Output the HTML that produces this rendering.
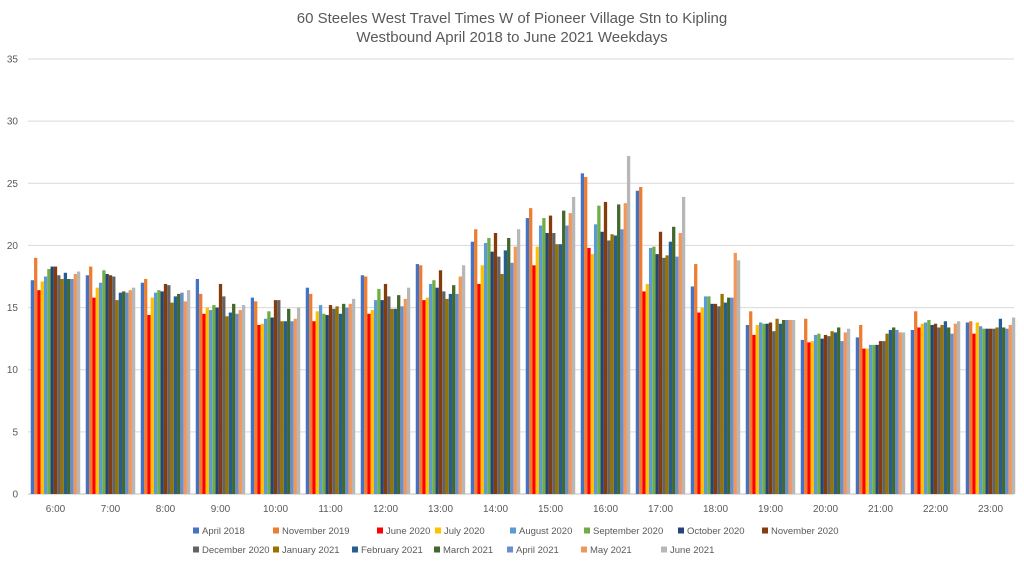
<!DOCTYPE html>
<html><head><meta charset="utf-8"><style>
body{margin:0;background:#fff;font-family:"Liberation Sans",sans-serif;}
svg text{font-family:"Liberation Sans",sans-serif;fill:#595959;}
</style></head><body>
<svg id="chart" width="1024" height="560">
<text x="512" y="23" text-anchor="middle" font-size="15">60 Steeles West Travel Times W of Pioneer Village Stn to Kipling</text>
<text x="512" y="42" text-anchor="middle" font-size="15">Westbound April 2018 to June 2021 Weekdays</text>
<g id="grid"></g><g id="bars"></g><g id="xlabels"></g><g id="legend"></g>
</svg>
<script>
const categories=["6:00","7:00","8:00","9:00","10:00","11:00","12:00","13:00","14:00","15:00","16:00","17:00","18:00","19:00","20:00","21:00","22:00","23:00"];
const seriesNames=["April 2018","November 2019","June 2020","July 2020","August 2020","September 2020","October 2020","November 2020","December 2020","January 2021","February 2021","March 2021","April 2021","May 2021","June 2021"];
const seriesColors=["#4472C4","#ED7D31","#FF0000","#FFC000","#5B9BD5","#70AD47","#264478","#843C0C","#636363","#997300","#255E91","#43682B","#698ED0","#F1975A","#B7B7B7"];
const yTicks=[0,5,10,15,20,25,30,35];
// values[category][series]
const v6=[17.2,19.0,16.4,17.1,17.5,18.1,18.3,18.3,17.6,17.3,17.8,17.3,17.3,17.7,17.9];
const v7=[17.6,18.3,15.8,16.6,17.0,18.0,17.7,17.6,17.5,15.6,16.2,16.3,16.2,16.4,16.6];
const v8=[17.0,17.3,14.4,15.8,16.2,16.4,16.3,16.9,16.8,15.4,15.9,16.1,16.2,15.5,16.4];
const v9=[17.3,16.1,14.5,15.0,14.8,15.2,15.0,16.9,15.9,14.3,14.6,15.3,14.5,14.8,15.2];
const v10=[15.8,15.5,13.6,13.7,14.1,14.7,14.2,15.6,15.6,13.9,13.9,14.9,13.9,14.1,15.0];
const v11=[16.6,16.1,13.9,14.7,15.2,14.5,14.4,15.2,14.9,15.1,14.5,15.3,15.0,15.3,15.7];
const v12=[17.6,17.5,14.5,14.8,15.6,16.5,15.6,16.9,15.9,14.9,14.9,16.0,15.1,15.7,16.6];
const v13=[18.5,18.4,15.6,15.8,16.9,17.2,16.6,18.0,16.3,15.7,16.1,16.8,16.1,17.5,18.4];
const v14=[20.3,21.3,16.9,18.4,20.2,20.6,19.5,21.0,19.1,17.7,19.6,20.6,18.6,19.9,21.3];
const v15=[22.2,23.0,18.4,19.9,21.6,22.2,21.0,22.4,21.0,20.1,20.1,22.8,21.6,22.6,23.9];
const v16=[25.8,25.5,19.8,19.3,21.7,23.2,21.1,23.5,20.4,20.9,20.8,23.3,21.3,23.4,27.2];
const v17=[24.4,24.7,16.3,16.9,19.8,19.9,19.3,21.1,19.0,19.2,20.3,21.5,19.1,21.0,23.9];
const v18=[16.7,18.5,14.6,15.0,15.9,15.9,15.3,15.3,15.1,16.1,15.4,15.8,15.8,19.4,18.8];
const v19=[13.6,14.7,12.8,13.6,13.8,13.7,13.7,13.8,13.1,14.1,13.7,14.0,14.0,14.0,14.0];
const v20=[12.4,14.1,12.2,12.3,12.8,12.9,12.5,12.8,12.7,13.1,13.0,13.4,12.3,13.0,13.3];
const v21=[12.6,13.6,11.7,11.7,12.0,12.0,12.0,12.3,12.3,12.9,13.2,13.4,13.2,13.0,13.0];
const v22=[13.2,14.7,13.4,13.7,13.8,14.0,13.6,13.7,13.4,13.6,13.9,13.4,12.9,13.7,13.9];
const v23=[13.8,13.9,12.9,13.8,13.5,13.3,13.3,13.3,13.3,13.4,14.1,13.4,13.3,13.6,14.2];
const values=[v6,v7,v8,v9,v10,v11,v12,v13,v14,v15,v16,v17,v18,v19,v20,v21,v22,v23];

const NS="http://www.w3.org/2000/svg";
const plotL=28,catW=55,y0=494,yMax=35,plotH=435,plotR=1014;
const yScale=val=>y0-val/yMax*plotH;
const xCat=i=>plotL+i*catW;
const barW=3.3,groupOff=2.75;
function mk(tag,attrs,parent){const e=document.createElementNS(NS,tag);for(const k in attrs)e.setAttribute(k,attrs[k]);parent.appendChild(e);return e;}
const grid=document.getElementById('grid');
yTicks.forEach(t=>{
  const l=mk('line',{x1:plotL,x2:plotR,y1:yScale(t),y2:yScale(t),stroke:t===0?'#BFBFBF':'#D9D9D9','stroke-width':1},grid);
  
  
  const tx=mk('text',{x:18,y:yScale(t)+3.5,'text-anchor':'end','font-size':10},grid);
  tx.textContent=t;
  
  
});
const bars=document.getElementById('bars');
values.forEach((row,i)=>{
  row.forEach((val,s)=>{
    const r=mk('rect',{x:xCat(i)+groupOff+s*barW,y:yScale(val),width:barW,height:y0-yScale(val),fill:seriesColors[s]},bars);
    
    
  });
});
const xl=document.getElementById('xlabels');
categories.forEach((c,i)=>{
  const t=mk('text',{x:xCat(i)+catW/2,y:512,'text-anchor':'middle','font-size':10},xl);
  t.textContent=c;
  
  
});
const legX=[196,276,380,438,513,587,681,765,196,276,355,437,510,584,664];
const lg=document.getElementById('legend');
seriesNames.forEach((n,s)=>{
  const y=s<8?531:550;
  const g=mk('g',{},lg);
  
  
  mk('rect',{x:legX[s]-3,y:y-3.5,width:6,height:6,fill:seriesColors[s]},g);
  const t=mk('text',{x:legX[s]+6,y:y+3,'font-size':9.5},g);
  t.textContent=n;
});
</script>
</body></html>
